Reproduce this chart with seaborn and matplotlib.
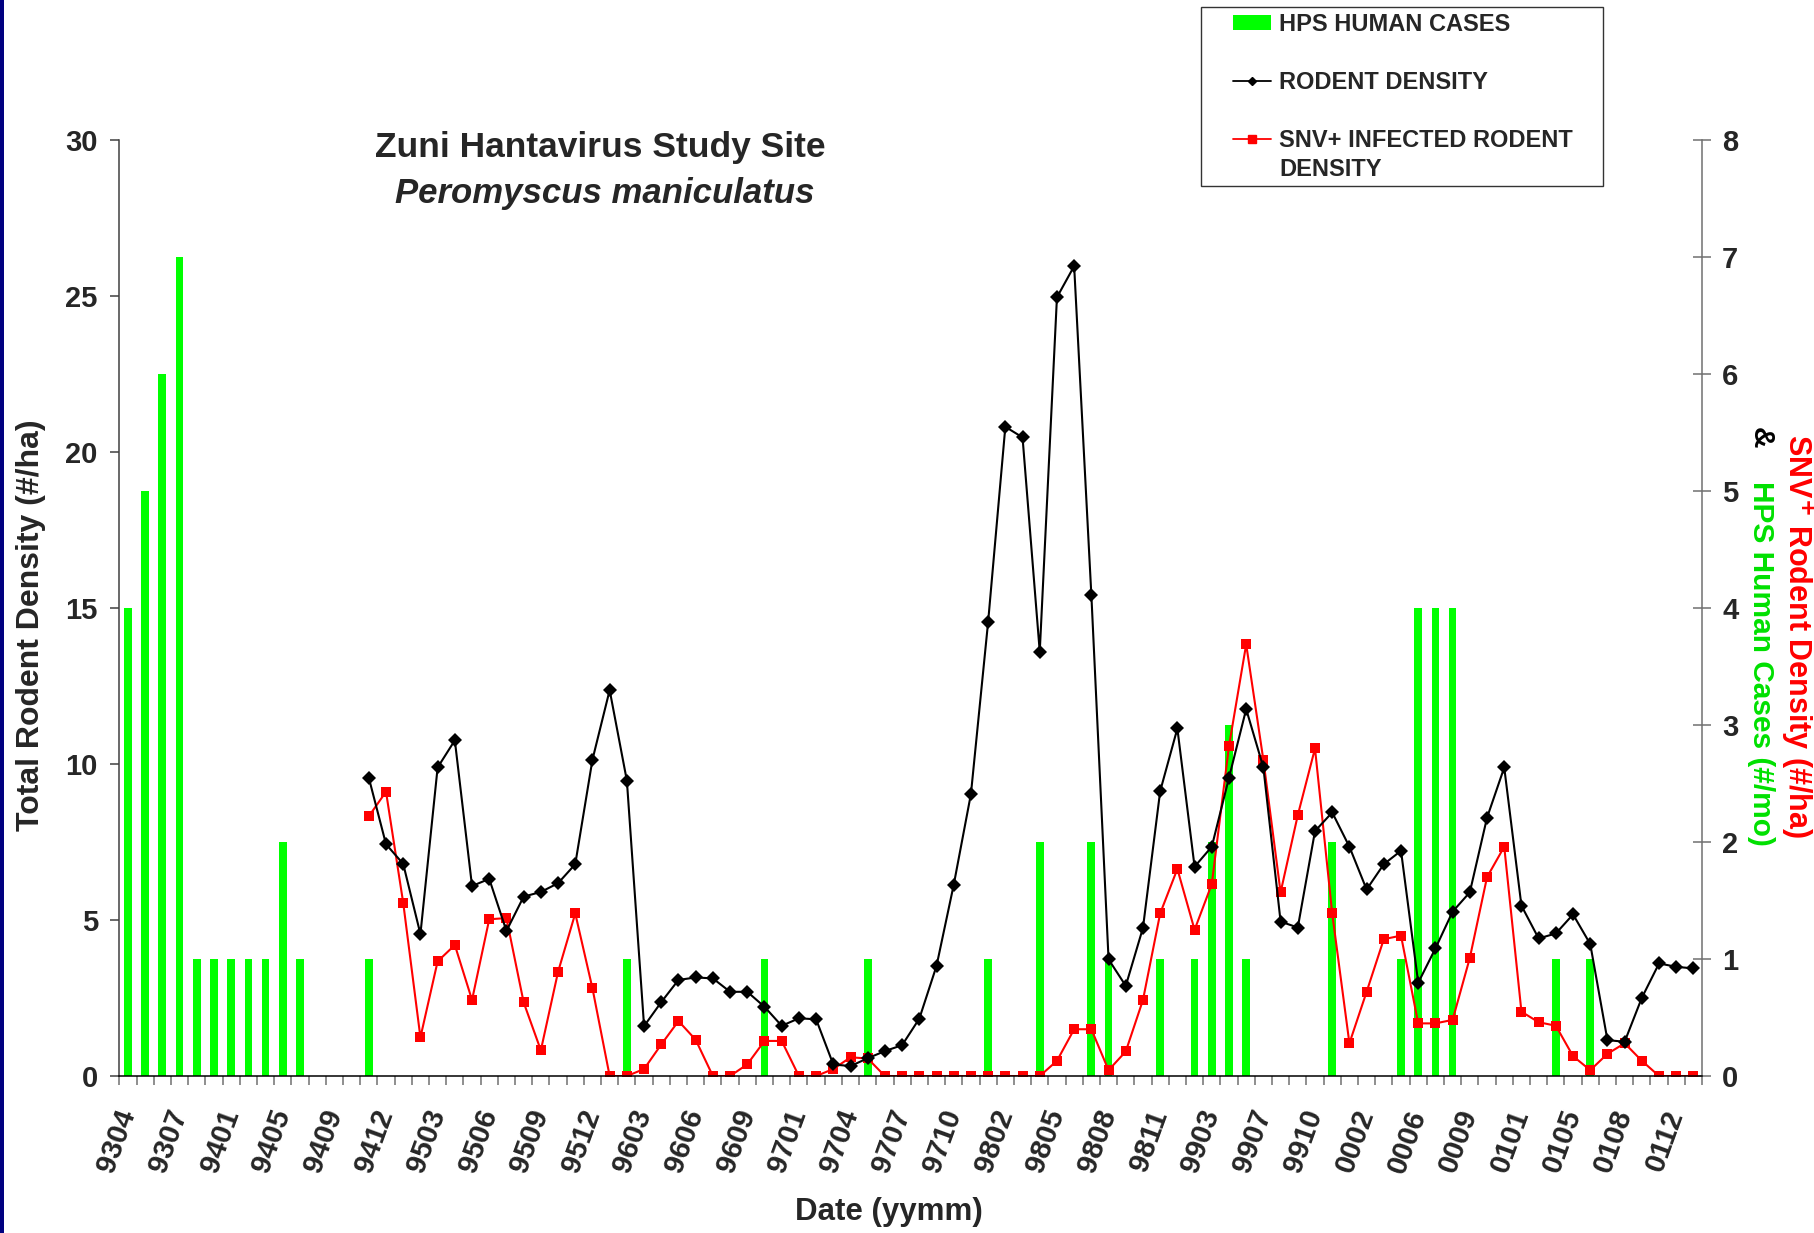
import numpy as np
import pandas as pd
import seaborn as sns
import matplotlib
matplotlib.use("Agg")
import matplotlib.pyplot as plt
from matplotlib.lines import Line2D
from matplotlib.patches import Patch, Rectangle
from matplotlib.legend_handler import HandlerLine2D, HandlerPatch

nan = np.nan

# every third sampling period gets a label
tick_labels = ['9304', '9307', '9401', '9405', '9409', '9412', '9503', '9506',
               '9509', '9512', '9603', '9606', '9609', '9701', '9704', '9707',
               '9710', '9802', '9805', '9808', '9811', '9903', '9907', '9910',
               '0002', '0006', '0009', '0101', '0105', '0108', '0112']

# HPS human cases per period (#/mo), 92 periods
hps_cases = [4, 5, 6, 7, 1, 1, 1, 1, 1, 2, 1, 0, 0, 0, 1, 0, 0, 0, 0, 0,
             0, 0, 0, 0, 0, 0, 0, 0, 0, 1, 0, 0, 0, 0, 0, 0, 0, 1, 0, 0,
             0, 0, 0, 1, 0, 0, 0, 0, 0, 0, 1, 0, 0, 2, 0, 0, 2, 1, 0, 0,
             1, 0, 1, 2, 3, 1, 0, 0, 0, 0, 2, 0, 0, 0, 1, 4, 4, 4, 0, 0,
             0, 0, 0, 1, 0, 1, 0, 0, 0, 0, 0, 0]

# total rodent density (#/ha), trapping starts in 9412
rodent_density = [nan] * 14 + [
    9.56, 7.43, 6.80, 4.55, 9.89, 10.76, 6.09, 6.32, 4.65, 5.75,
    5.90, 6.18, 6.79, 10.14, 12.37, 9.47, 1.60, 2.37, 3.08, 3.16,
    3.13, 2.70, 2.70, 2.22, 1.61, 1.85, 1.82, 0.37, 0.32, 0.57,
    0.80, 0.99, 1.84, 3.53, 6.13, 9.04, 14.56, 20.81, 20.47, 13.60,
    24.96, 25.96, 15.42, 3.74, 2.89, 4.75, 9.13, 11.14, 6.71, 7.35,
    9.56, 11.76, 9.89, 4.95, 4.76, 7.85, 8.45, 7.35, 5.98, 6.79,
    7.22, 2.99, 4.09, 5.27, 5.89, 8.28, 9.89, 5.46, 4.41, 4.57,
    5.18, 4.23, 1.15, 1.10, 2.51, 3.61, 3.50, 3.45]

# SNV+ infected rodent density (#/ha)
snv_density = [nan] * 14 + [
    2.22, 2.43, 1.48, 0.33, 0.98, 1.12, 0.65, 1.34, 1.35, 0.63,
    0.22, 0.89, 1.39, 0.75, 0.0, 0.0, 0.06, 0.27, 0.47, 0.31,
    0.0, 0.0, 0.10, 0.30, 0.30, 0.0, 0.0, 0.06, 0.16, 0.15,
    0.0, 0.0, 0.0, 0.0, 0.0, 0.0, 0.0, 0.0, 0.0, 0.0,
    0.13, 0.40, 0.40, 0.05, 0.21, 0.65, 1.39, 1.77, 1.25, 1.64,
    2.82, 3.69, 2.70, 1.57, 2.23, 2.80, 1.39, 0.28, 0.72, 1.17,
    1.20, 0.45, 0.45, 0.48, 1.01, 1.70, 1.96, 0.55, 0.46, 0.43,
    0.17, 0.05, 0.19, 0.28, 0.13, 0.0, 0.0, 0.0]

df = pd.DataFrame({
    'period': np.arange(len(hps_cases)),
    'hps': hps_cases,
    'rodent': rodent_density,
    'snv': snv_density,
})
lines_df = df.dropna()


class RaisedLine(HandlerLine2D):
    # legend line handle lifted to sit beside the first line of its label
    def __init__(self, lift=0.0, **kw):
        super().__init__(**kw)
        self.lift = lift

    def create_artists(self, legend, orig_handle, xdescent, ydescent,
                       width, height, fontsize, trans):
        arts = super().create_artists(legend, orig_handle, xdescent, ydescent,
                                      width, height, fontsize, trans)
        for a in arts:
            a.set_ydata(np.asarray(a.get_ydata()) + self.lift * fontsize)
        return arts


sns.set_style("white")
plt.rcParams['font.family'] = ['Liberation Sans', 'DejaVu Sans']
plt.rcParams['font.weight'] = 'bold'

fig = plt.figure(figsize=(18.14, 12.33), dpi=100)
ax = fig.add_axes([0.0658, 0.1273, 0.8725, 0.7591])
ax2 = ax.twinx()

# bars and infected density on the right axis
sns.barplot(data=df, x='period', y='hps', ax=ax2, color='#00FF00',
            saturation=1, width=0.45, errorbar=None, linewidth=0)
sns.lineplot(data=lines_df, x='period', y='snv', ax=ax2, color='#FF0000',
             linewidth=1.5, marker='s', markersize=7, markeredgewidth=0)
# total rodent density on the left axis
sns.lineplot(data=lines_df, x='period', y='rodent', ax=ax, color='black',
             linewidth=1.5, marker='D', markersize=7, markeredgewidth=0)

ax.set_zorder(ax2.get_zorder() + 1)
ax.patch.set_visible(False)

n = len(hps_cases)
ax.set_xlim(-0.5, n - 0.5)
ax.set_ylim(0, 30)
ax2.set_ylim(0, 8)
ax.set_yticks(range(0, 31, 5))
ax2.set_yticks(range(0, 9))

# tick marks between periods, labels on every third period
ax.set_xticks(np.arange(n + 1) - 0.5)
ax.set_xticklabels([])
ax.set_xticks(np.arange(0, n, 3)[:len(tick_labels)], tick_labels, minor=True)
ax.tick_params(axis='x', which='major', direction='out', length=6.5,
               width=1.1, color='#707070', bottom=True)
ax.tick_params(axis='x', which='minor', length=0, pad=25, labelsize=21)
for lbl in ax.get_xticklabels(minor=True):
    lbl.set_rotation(70)
    lbl.set_ha('right')
    lbl.set_va('center')
    lbl.set_rotation_mode('anchor')
    lbl.set_fontweight('bold')

ax.tick_params(axis='y', direction='out', length=6.5, width=1.1,
               color='#404040', labelsize=21, pad=9, left=True)
ax2.tick_params(axis='y', direction='inout', length=13, width=1.1,
                color='#707070', labelsize=21, pad=8, right=True)
for lbl in ax.get_yticklabels() + ax2.get_yticklabels():
    lbl.set_fontweight('bold')

for a in (ax, ax2):
    a.set_xlabel('')
    a.set_ylabel('')
    a.grid(False)
    a.spines['top'].set_visible(False)
ax.spines['right'].set_visible(False)
ax2.spines['left'].set_visible(False)
ax2.spines['bottom'].set_visible(False)
ax.spines['left'].set_color('#404040')
ax.spines['bottom'].set_color('black')
ax2.spines['right'].set_color('#707070')
for s in ('left', 'bottom'):
    ax.spines[s].set_linewidth(1.1)
ax2.spines['right'].set_linewidth(1.1)

# titles and axis labels
fig.text(0.331, 0.880, 'Zuni Hantavirus Study Site', ha='center', va='center',
         fontsize=25.5, fontweight='bold')
fig.text(0.3335, 0.8427, 'Peromyscus maniculatus', ha='center', va='center',
         fontsize=25, fontweight='bold', style='italic')
fig.text(0.0171, 0.4931, 'Total Rodent Density (#/ha)', rotation=90,
         ha='center', va='center', fontsize=23, fontweight='bold')
fig.text(0.490, 0.017, 'Date (yymm)', ha='center', va='center',
         fontsize=22.5, fontweight='bold')
fig.text(0.9909, 0.4842, r'SNV$^{\mathbf{+}}$ Rodent Density (#/ha)',
         rotation=270, ha='center', va='center', fontsize=22,
         fontweight='bold', color='#FF0000')
fig.text(0.9708, 0.6450, '&', rotation=270, ha='center', va='center',
         fontsize=21.5, fontweight='bold', color='black')
fig.text(0.9708, 0.4623, 'HPS Human Cases (#/mo)', rotation=270,
         ha='center', va='center', fontsize=21.5, fontweight='bold',
         color='#00E000')

# legend
h_hps = Patch(facecolor='#00FF00', edgecolor='none')
h_rod = Line2D([], [], color='black', linewidth=1.3, marker='D', markersize=4.5)
h_snv = Line2D([], [], color='#FF0000', linewidth=1.3, marker='s', markersize=5.5)
labels = ['HPS HUMAN CASES', 'RODENT DENSITY', 'SNV+ INFECTED RODENT\nDENSITY']
leg = fig.legend([h_hps, h_rod, h_snv], labels, loc='upper left',
                 bbox_to_anchor=(0.662, 0.994, 0.2217, 0.0), mode='expand',
                 bbox_transform=fig.transFigure, borderaxespad=0,
                 fancybox=False, shadow=False, frameon=True,
                 prop={'size': 17, 'weight': 'bold'}, handlelength=2.75,
                 handleheight=0.6, handletextpad=0.34, labelspacing=1.5,
                 borderpad=0.22,
                 handler_map={h_hps: HandlerPatch(xpad=1.13),
                              h_rod: HandlerLine2D(xpad=1.13),
                              h_snv: RaisedLine(lift=0.75, xpad=1.13)})
leg.get_frame().set_edgecolor('black')
leg.get_frame().set_linewidth(1.0)
for t in leg.get_texts():
    t.set_linespacing(1.3)

# navy strip on the left edge of the slide
fig.patches.append(Rectangle((0, 0), 3.5 / 1814, 1, transform=fig.transFigure,
                             facecolor='#000080', edgecolor='none'))

fig.savefig('out.png', dpi=100)
